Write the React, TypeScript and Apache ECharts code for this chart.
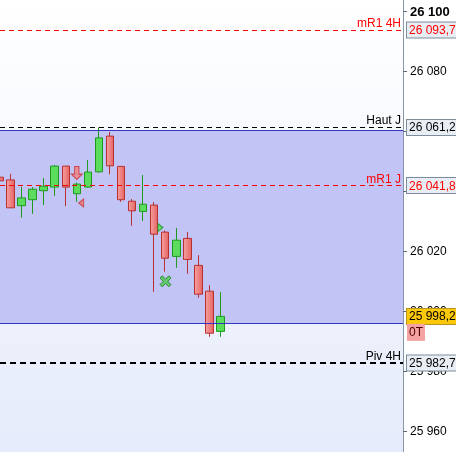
import React, { useEffect, useRef } from "react";
import * as echarts from "echarts";

// ---- data ----
const candleIndex = [0, 1, 2, 3, 4, 5, 6, 7, 8, 9, 10, 11, 12, 13, 14, 15, 16, 17, 18, 19, 20];
const opens = [26044.6, 26043.7, 26035.1, 26037.1, 26040.1, 26041.3, 26048.3, 26039.1, 26041.3, 26046.4, 26058.3, 26048.2, 26036.6, 26033.2, 26035.3, 26026.3, 26018.2, 26024.2, 26015.2, 26006.6, 25993.2];
const closes = [26043.4, 26034.4, 26037.7, 26040.6, 26041.6, 26048.3, 26041.3, 26042.3, 26046.3, 26057.7, 26048.4, 26037.1, 26033.4, 26035.6, 26025.6, 26017.6, 26023.6, 26017.2, 26005.6, 25992.6, 25998.2];
const lows = [26043.4, 26034.4, 26031.1, 26032.4, 26035.3, 26038.4, 26035.0, 26036.4, 26041.1, 26046.1, 26045.6, 26036.4, 26028.4, 26030.0, 26006.4, 26013.1, 26014.4, 26012.4, 26004.4, 25991.4, 25991.4];
const highs = [26044.6, 26045.7, 26041.4, 26041.3, 26044.3, 26048.7, 26048.3, 26042.8, 26050.3, 26061.2, 26059.7, 26048.2, 26037.3, 26045.3, 26036.3, 26026.8, 26027.7, 26026.3, 26018.6, 26008.6, 26006.3];

const levelNames = ["mR1 4H", "Haut J", "mR1 J", "Piv 4H"];
const levelValues = [26093.7, 26061.2, 26041.8, 25982.7];

const rangeTop = 26060.3;
const rangeBottom = 25996.0;
const positionLabel = "0T";

const tickValues = [25960, 25980, 26000, 26020, 26040, 26060, 26080, 26100];
const tickLabelValues = [25960, 25980, 26000, 26020, 26080, 26100];

const markerX = [7, 7.4, 14.57, 15.03];
const markerY = [26046.0, 26036.0, 26027.8, 26009.9];
const markerKinds = ["sellArrow", "redTri", "greenTri", "greenX"];

// ---- styles ----
const FONT = "'Liberation Sans', Arial, sans-serif";
const X_MIN = 0.0498;
const X_MAX = 36.52;
const Y_MIN = 25953;
const Y_MAX = 26103.667;
const HIDDEN = "rgba(0,0,0,0)";

const levelStyles = [
  { color: "#ff0000", width: 1, type: [5, 4] },
  { color: "#000000", width: 1, type: [5, 4] },
  { color: "#ff0000", width: 1, type: [5, 4] },
  { color: "#000000", width: 2, type: [6, 4] },
];

const markerStyles: Record<string, any> = {
  sellArrow: {
    symbol: "path://M3,0 L7,0 L7,7 L10,7 L5,12 L0,7 L3,7 Z",
    symbolSize: [11, 13],
    itemStyle: { color: "#f38080", borderColor: "#c43030", borderWidth: 1 },
  },
  redTri: {
    symbol: "path://M5,0 L5,8 L0,4 Z",
    symbolSize: [5, 8],
    itemStyle: { color: "#f07070", borderColor: "#c43030", borderWidth: 1 },
  },
  greenTri: {
    symbol: "path://M0,0 L5,4 L0,8 Z",
    symbolSize: [5, 8],
    itemStyle: { color: "#5cdc5c", borderColor: "#1e9a1e", borderWidth: 1 },
  },
  greenX: {
    symbol: "path://M2,0 L5,3 L8,0 L10,2 L7,5 L10,8 L8,10 L5,7 L2,10 L0,8 L3,5 L0,2 Z",
    symbolSize: [11, 11],
    itemStyle: { color: "#4ccc4c", borderColor: "#1a7a1a", borderWidth: 1 },
  },
};

function fmt(v: number, decimals: number): string {
  const s = v.toFixed(decimals);
  const [i, f] = s.split(".");
  const ip = i.replace(/\B(?=(\d{3})+(?!\d))/g, " ");
  return f ? ip + "," + f : ip;
}

const boxBase = {
  show: true,
  position: "end",
  distance: [4, 0],
  fontFamily: FONT,
  fontSize: 12,
  lineHeight: 13,
  padding: [1, 4, 1, 2],
  borderWidth: 1,
};

export default function App() {
  const ref = useRef<HTMLDivElement>(null);

  useEffect(() => {
    if (!ref.current) return;
    const chart = echarts.init(ref.current, undefined, { renderer: "svg" });

    const candles = candleIndex.map((i, k) => [i, opens[k], closes[k], lows[k], highs[k]]);

    const lineMarks: any[] = [];
    [rangeTop, rangeBottom].forEach((v) => {
      lineMarks.push({
        yAxis: v,
        lineStyle: { color: "#3434c8", width: 1, type: "solid" },
        label: { show: false },
      });
    });
    levelValues.forEach((v, k) => {
      const st = levelStyles[k];
      lineMarks.push({
        yAxis: v,
        lineStyle: { color: st.color, width: st.width, type: st.type },
        label: {
          show: true,
          position: "insideEndTop",
          distance: [2, 1],
          formatter: levelNames[k],
          color: st.color,
          fontFamily: FONT,
          fontSize: 12,
        },
      });
    });

    const boxMarks: any[] = [];
    levelValues.forEach((v, k) => {
      const st = levelStyles[k];
      boxMarks.push({
        yAxis: v,
        lineStyle: { color: HIDDEN, width: 0 },
        label: {
          ...boxBase,
          formatter: fmt(v, 1),
          color: st.color,
          backgroundColor: "#e9eef4",
          borderColor: "#7d8c9c",
        },
      });
    });
    const last = closes[closes.length - 1];
    boxMarks.push({
      yAxis: last,
      lineStyle: { color: HIDDEN, width: 0 },
      label: {
        ...boxBase,
        formatter: fmt(last, 1),
        color: "#000000",
        backgroundColor: "#fcc80a",
        borderColor: "#b8961c",
      },
    });
    boxMarks.push({
      yAxis: last,
      lineStyle: { color: HIDDEN, width: 0 },
      label: {
        ...boxBase,
        formatter: positionLabel,
        offset: [0, 16],
        color: "#4a0000",
        backgroundColor: "#f4a2a2",
        borderWidth: 0,
        padding: [2, 2, 2, 2],
      },
    });

    const markers = markerKinds.map((kind, k) => ({
      value: [markerX[k], markerY[k]],
      ...markerStyles[kind],
    }));

    const option: any = {
      animation: false,
      grid: {
        left: 0,
        right: 53,
        top: 0,
        bottom: 0,
        show: true,
        borderWidth: 0,
        backgroundColor: new echarts.graphic.LinearGradient(0, 0, 0, 1, [
          { offset: 0, color: "#ffffff" },
          { offset: 1, color: "#e5ebfa" },
        ]),
      },
      xAxis: { type: "value", min: X_MIN, max: X_MAX, show: false },
      yAxis: {
        type: "value",
        position: "right",
        min: Y_MIN,
        max: Y_MAX,
        splitLine: { show: false },
        axisLine: { show: true, lineStyle: { color: "#8796a8", width: 1 } },
        axisTick: {
          show: true,
          length: 4,
          customValues: tickValues,
          lineStyle: { color: "#5b6878" },
        },
        axisLabel: {
          customValues: tickLabelValues,
          margin: 7,
          color: "#000",
          fontSize: 12,
          fontFamily: FONT,
          formatter: (v: number) => (v === 26100 ? "{b|" + fmt(v, 0) + "}" : fmt(v, 0)),
          rich: {
            b: { fontWeight: "bold", fontSize: 13, color: "#000", fontFamily: FONT },
          },
        },
      },
      series: [
        {
          type: "line",
          data: [],
          z: 1,
          silent: true,
          markArea: {
            silent: true,
            itemStyle: { color: "#c1c4f4" },
            data: [[{ yAxis: rangeTop }, { yAxis: rangeBottom }]],
          },
        },
        {
          type: "line",
          data: [],
          z: 2,
          silent: true,
          markLine: {
            silent: true,
            symbol: ["none", "none"],
            data: lineMarks,
          },
        },
        {
          type: "candlestick",
          z: 3,
          barWidth: 8,
          encode: { x: 0, y: [1, 2, 3, 4] },
          data: candles,
          itemStyle: {
            color: "#5cdc5c",
            color0: new echarts.graphic.LinearGradient(0, 0, 1, 0, [
              { offset: 0, color: "#f6a0a0" },
              { offset: 1, color: "#e66464" },
            ]),
            borderColor: "#1e9a1e",
            borderColor0: "#b83030",
            borderWidth: 1,
          },
        },
        {
          type: "scatter",
          z: 4,
          data: markers,
        },
        {
          type: "line",
          data: [],
          z: 5,
          silent: true,
          markLine: {
            silent: true,
            symbol: ["none", "none"],
            data: boxMarks,
          },
        },
      ],
    };

    chart.setOption(option);
    return () => chart.dispose();
  }, []);

  return (
    <div
      ref={ref}
      style={{ position: "fixed", left: 0, top: 0, width: 456, height: 452 }}
    />
  );
}
